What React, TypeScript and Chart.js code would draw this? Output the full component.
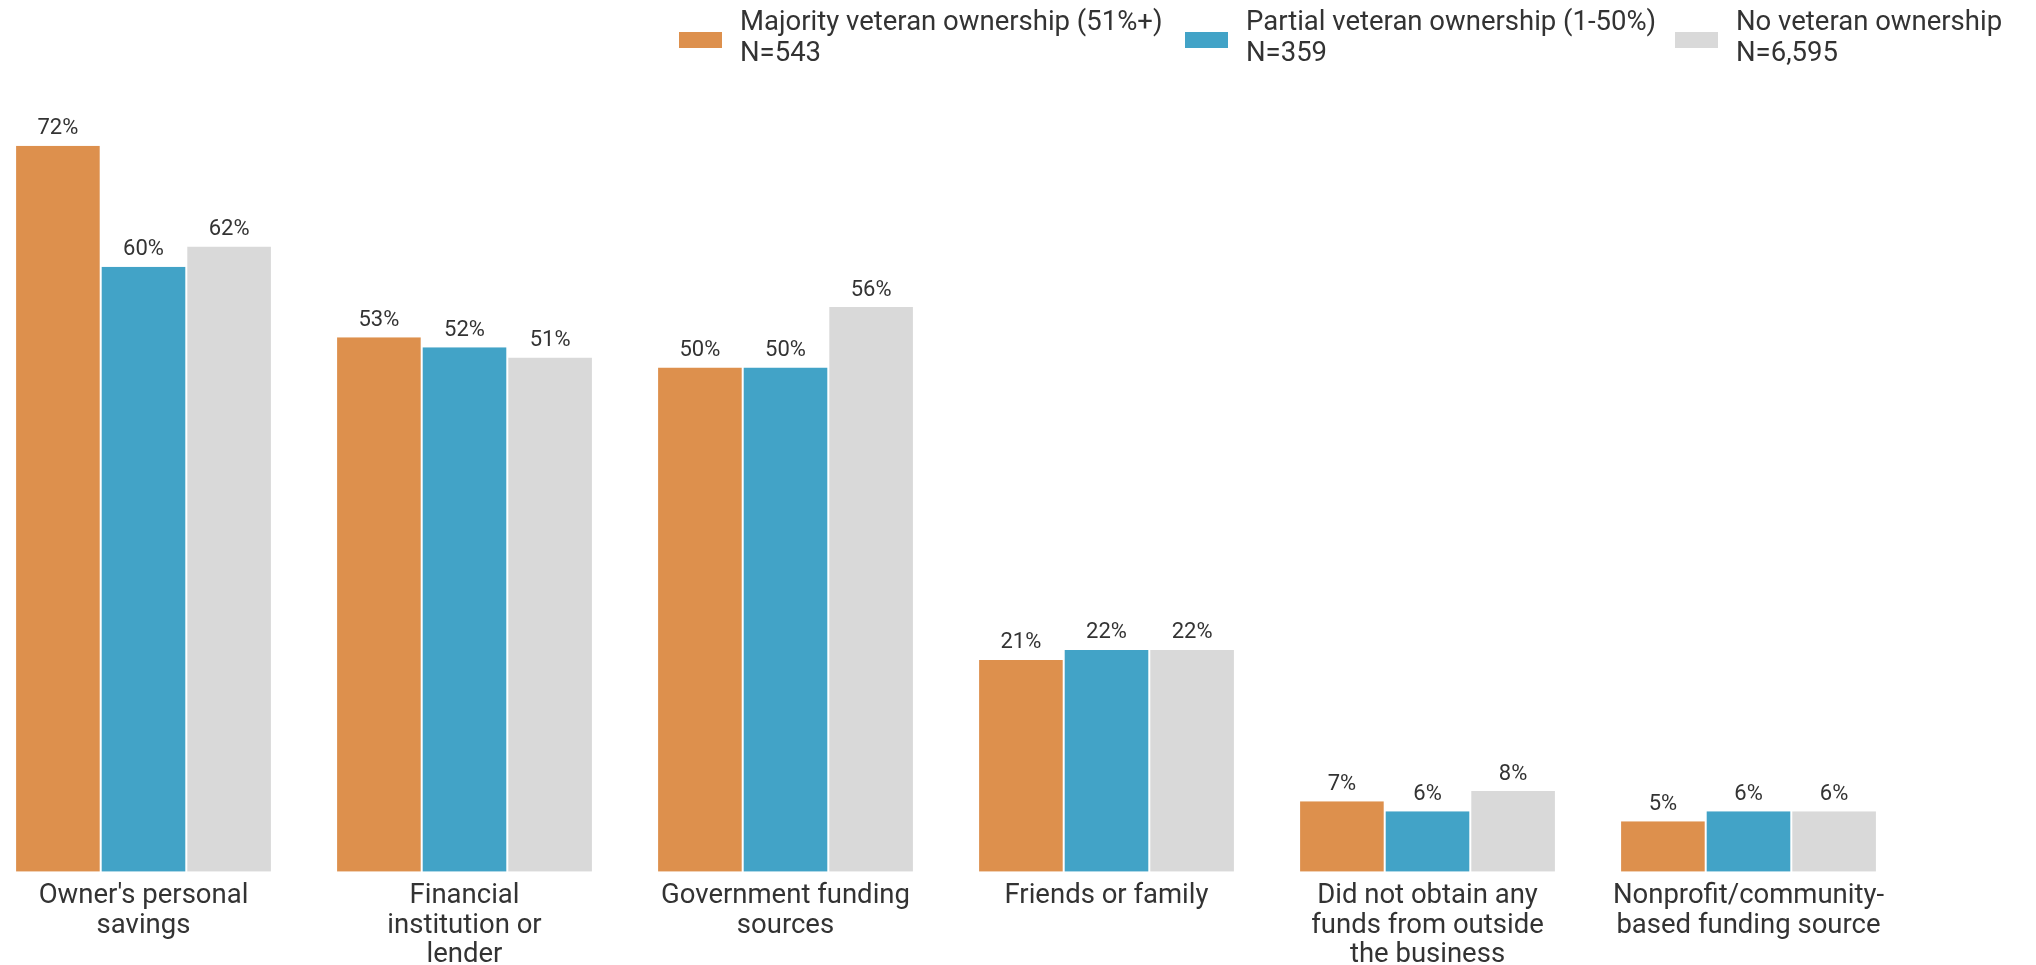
import React, { useEffect, useRef } from "react";
import { Chart, registerables } from "chart.js";
Chart.register(...registerables);

const categories: string[][] = [
  ["Owner's personal", "savings"],
  ["Financial", "institution or", "lender"],
  ["Government funding", "sources"],
  ["Friends or family"],
  ["Did not obtain any", "funds from outside", "the business"],
  ["Nonprofit/community-", "based funding source"],
];
const seriesNames = [
  "Majority veteran ownership (51%+)",
  "Partial veteran ownership (1-50%)",
  "No veteran ownership",
];
const seriesN = ["N=543", "N=359", "N=6,595"];
const majority = [72, 53, 50, 21, 7, 5];
const partial = [60, 52, 50, 22, 6, 6];
const noVeteran = [62, 51, 56, 22, 8, 6];
const colors = ["#DD904D", "#42A3C7", "#D9D9D9"];

const FONT = "Roboto, 'Noto Sans', sans-serif";
const TEXT = "#333333";
const OFFSET_X = 17; // canvas shifted left by this many px

const valueLabels = {
  id: "valueLabels",
  afterDatasetsDraw(chart: any) {
    const ctx = chart.ctx;
    ctx.save();
    ctx.font = `22px ${FONT}`;
    ctx.fillStyle = TEXT;
    ctx.textAlign = "center";
    ctx.textBaseline = "bottom";
    chart.data.datasets.forEach((ds: any, i: number) => {
      const meta = chart.getDatasetMeta(i);
      meta.data.forEach((el: any, j: number) => {
        ctx.fillText(`${ds.data[j]}%`, el.x, el.y - 6);
      });
    });
    ctx.restore();
  },
};

const customLegend = {
  id: "customLegend",
  afterDraw(chart: any) {
    const ctx = chart.ctx;
    ctx.save();
    const boxX = [679, 1185, 1675];
    ctx.font = `27.5px ${FONT}`;
    ctx.textBaseline = "middle";
    ctx.textAlign = "left";
    seriesNames.forEach((name, i) => {
      const bx = boxX[i] + OFFSET_X;
      ctx.fillStyle = colors[i];
      ctx.fillRect(bx, 32, 43, 16);
      ctx.fillStyle = TEXT;
      ctx.fillText(name, bx + 61, 23);
      ctx.fillText(seriesN[i], bx + 61, 54);
    });
    ctx.restore();
  },
};

export default function App() {
  const ref = useRef<HTMLCanvasElement | null>(null);
  useEffect(() => {
    document.body.style.margin = "0";
    document.body.style.overflow = "hidden";
    const chart = new Chart(ref.current as HTMLCanvasElement, {
      type: "bar",
      data: {
        labels: categories,
        datasets: [
          { label: seriesNames[0], data: majority, backgroundColor: colors[0] },
          { label: seriesNames[1], data: partial, backgroundColor: colors[1] },
          { label: seriesNames[2], data: noVeteran, backgroundColor: colors[2] },
        ].map((d) => ({
          ...d,
          borderColor: "#ffffff",
          borderWidth: { left: 1, right: 1, top: 0, bottom: 0 },
          categoryPercentage: 0.8,
          barPercentage: 1.0,
        })),
      },
      options: {
        animation: false,
        responsive: true,
        maintainAspectRatio: false,
        layout: { padding: { top: 65, right: 127, left: 0, bottom: 0 } },
        plugins: {
          legend: { display: false },
          tooltip: { enabled: false },
          title: { display: false },
        },
        scales: {
          x: {
            grid: { display: false, drawTicks: false },
            border: { display: false },
            ticks: {
              color: TEXT,
              font: { family: FONT, size: 27.5, lineHeight: 1.07 },
              padding: 10,
              maxRotation: 0,
              autoSkip: false,
            },
          },
          y: {
            display: false,
            min: 0,
            max: 80,
          },
        },
      },
      plugins: [valueLabels, customLegend],
    });
    return () => chart.destroy();
  }, []);
  return (
    <div
      style={{
        position: "absolute",
        left: -OFFSET_X,
        top: 0,
        width: 2036 + OFFSET_X,
        height: 980,
      }}
    >
      <canvas ref={ref} />
    </div>
  );
}
